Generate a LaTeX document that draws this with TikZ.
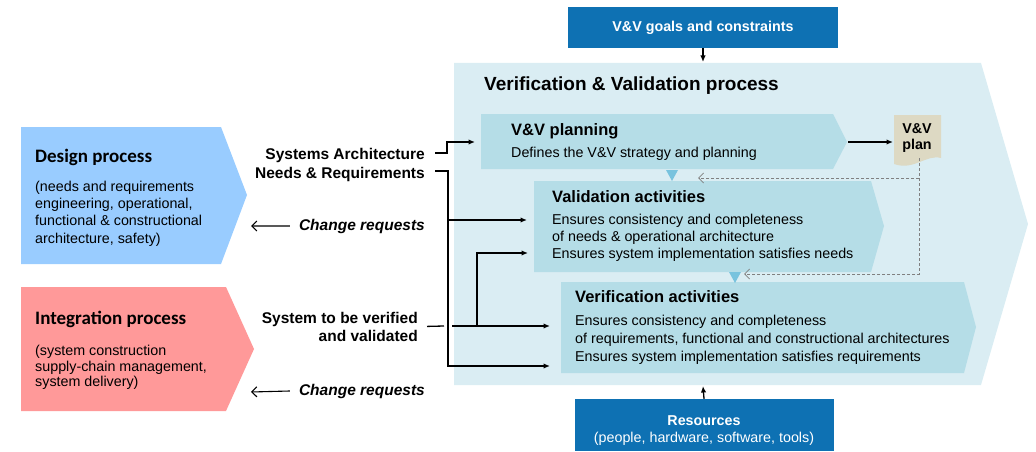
\documentclass[tikz,border=0pt]{standalone}
\usepackage{fontspec}
\setmainfont{Liberation Sans}
\newfontfamily\calfont{Carlito}
\usetikzlibrary{arrows.meta}

\definecolor{vvblue}{RGB}{14,113,179}
\definecolor{vvbg}{RGB}{218,237,243}
\definecolor{vvbox}{RGB}{181,221,231}
\definecolor{vvtick}{RGB}{120,195,222}
\definecolor{plandoc}{RGB}{221,217,195}
\definecolor{designc}{RGB}{153,204,255}
\definecolor{integc}{RGB}{255,153,153}
\definecolor{dashgray}{RGB}{128,128,128}

\begin{document}
\begin{tikzpicture}[x=1pt,y=-1pt,
  txt/.style={inner sep=0pt, anchor=base west, font=\fontsize{14.3}{17}\selectfont},
  ttl/.style={inner sep=0pt, anchor=base west, font=\fontsize{16.5}{19}\selectfont\bfseries},
  proc/.style={inner sep=0pt, anchor=base west, font=\calfont\fontsize{19}{22}\selectfont\bfseries},
  lbl/.style={inner sep=0pt, anchor=base east, font=\fontsize{15.5}{18}\selectfont\bfseries},
  crq/.style={inner sep=0pt, anchor=base east, font=\fontsize{15.5}{18}\selectfont\bfseries\itshape},
  bluebox/.style={fill=vvblue, inner sep=0pt},
  wtxt/.style={inner sep=0pt, anchor=base, text=white, font=\fontsize{14.3}{17}\selectfont},
  conn/.style={line width=1.3pt, -{Latex[length=6.5pt,width=5.5pt]}},
  plain/.style={line width=1.3pt},
  back/.style={line width=1.1pt, -{Straight Barb[length=5pt,width=10pt]}},
  planlink/.style={dashgray, line width=0.8pt, dash pattern=on 3pt off 2pt,
                   -{Straight Barb[length=5pt,width=10pt]}},
]
\useasboundingbox (0,0) rectangle (1036,452);

% ---- process chevrons ----
\fill[vvbg] (454,63) -- (981,63) -- (1028,224) -- (981,385) -- (454,385) -- cycle;
\fill[vvbox] (481,114) -- (833,114) -- (847,142) -- (833,169) -- (481,169) -- cycle;
\fill[vvbox] (534,181) -- (871,181) -- (884,226) -- (871,272) -- (534,272) -- cycle;
\fill[vvbox] (561,282) -- (964,282) -- (976,327) -- (964,373) -- (561,373) -- cycle;
\fill[designc] (21,127) -- (221,127) -- (247,195) -- (221,264) -- (21,264) -- cycle;
\fill[integc] (21,287) -- (226,287) -- (254,349) -- (226,411) -- (21,411) -- cycle;

% small flow marks between the activity blocks
\fill[vvtick] (666,170) -- (678,170) -- (672,181) -- cycle;
\fill[vvtick] (729,272) -- (741,272) -- (735,283) -- cycle;

% V&V plan document
\fill[plandoc] (894,115) -- (941,115) -- (941,158)
  .. controls (926,154) and (914,171) .. (894,164) -- cycle;
\node[inner sep=0pt, anchor=base, font=\fontsize{14.3}{17}\selectfont\bfseries] (plan1) at (917,133) {V\&V};
\node[inner sep=0pt, anchor=base, font=\fontsize{14.3}{17}\selectfont\bfseries] (plan2) at (917,149) {plan};

% ---- top and bottom boxes ----
\node[bluebox, minimum width=270pt, minimum height=41pt, text=white,
      font=\fontsize{14.3}{17}\selectfont\bfseries] (goals) at (703,27.5) {V\&V goals and constraints};
\node[bluebox, minimum width=259pt, minimum height=52pt] (res) at (704,425) {};
\node[wtxt, font=\fontsize{14.3}{17}\selectfont\bfseries] (res1) at (704,425) {Resources};
\node[wtxt] (res2) at (704,442) {(people, hardware, software, tools)};

% ---- texts inside the V&V process ----
\node[inner sep=0pt, anchor=base west, font=\fontsize{19}{22}\selectfont\bfseries] (vvtitle) at (484,90) {Verification \& Validation process};

\node[ttl] (plant) at (511,135) {V\&V planning};
\node[txt] (planl) at (511,157) {Defines the V\&V strategy and planning};

\node[ttl] (valt) at (552,202) {Validation activities};
\node[txt] (val1) at (552,224) {Ensures consistency and completeness};
\node[txt] (val2) at (552,241) {of needs \& operational architecture};
\node[txt] (val3) at (552,258) {Ensures system implementation satisfies needs};

\node[ttl] (vert) at (575,302) {Verification activities};
\node[txt] (ver1) at (575,325) {Ensures consistency and completeness};
\node[txt] (ver2) at (575,343) {of requirements, functional and constructional architectures};
\node[txt] (ver3) at (575,361) {Ensures system implementation satisfies requirements};

% ---- design and integration processes ----
\node[proc] (dest) at (35,162) {Design process};
\node[txt] (des1) at (35,191) {(needs and requirements};
\node[txt] (des2) at (35,208) {engineering, operational,};
\node[txt] (des3) at (35,225) {functional \& constructional};
\node[txt] (des4) at (35,243) {architecture, safety)};

\node[proc] (intt) at (35,324) {Integration process};
\node[txt] (int1) at (35,355) {(system construction};
\node[txt] (int2) at (35,371) {supply-chain management,};
\node[txt] (int3) at (35,386) {system delivery)};

% ---- flow labels ----
\node[lbl] (sa) at (425,159) {Systems Architecture};
\node[lbl] (nr) at (425,178) {Needs \& Requirements};
\node[crq] (cr1) at (425,230) {Change requests};
\node[lbl] (sys1) at (418,323) {System to be verified};
\node[lbl] (sys2) at (418,341) {and validated};
\node[crq] (cr2) at (425,395) {Change requests};

% ---- connector end points ----
\coordinate (vv-top) at (703,62);
\coordinate (vv-bot) at (703,386);
\coordinate (plan-in) at (475,142);
\coordinate (plan-out) at (848,142);
\coordinate (doc-in) at (893,142);
\coordinate (doc-drop) at (919,158);
\coordinate (val-plan) at (698,178);
\coordinate (ver-plan) at (744,274);
\coordinate (val-in-a) at (527,220);
\coordinate (val-in-b) at (528,253);
\coordinate (ver-in-a) at (550,326);
\coordinate (ver-in-b) at (550,366);
\coordinate (bus-val) at (448,220);
\coordinate (bus-bot) at (448,366);
\coordinate (jump-l) at (444,326);
\coordinate (jump-r) at (452,326);
\coordinate (tap) at (477,326);
\coordinate (des-back) at (251,226);
\coordinate (int-back) at (251,392);

% ---- connectors ----
\draw[conn] (goals.south) -- (vv-top);
\draw[conn] (res.north) -- (vv-bot);
\draw[conn] (plan-out) -- (doc-in);
\draw[planlink] (doc-drop) |- (val-plan);
\draw[planlink] (doc-drop) |- (ver-plan);

\draw[conn] ([xshift=10pt,yshift=2pt]sa.east) -- ++(12,0) |- (plan-in);
\draw[conn] ([xshift=10pt,yshift=3pt]nr.east) -| (bus-bot) -- (ver-in-b);
\draw[conn] (bus-val) -- (val-in-a);
\draw[plain] ([xshift=9pt]sys1.south east) -- (jump-l);
\draw[conn] (jump-r) -- (ver-in-a);
\draw[conn] (tap) |- (val-in-b);

\draw[back] ([xshift=-9pt]cr1.west) -- (des-back);
\draw[back] ([xshift=-9pt]cr2.west) -- (int-back);
\end{tikzpicture}
\end{document}
